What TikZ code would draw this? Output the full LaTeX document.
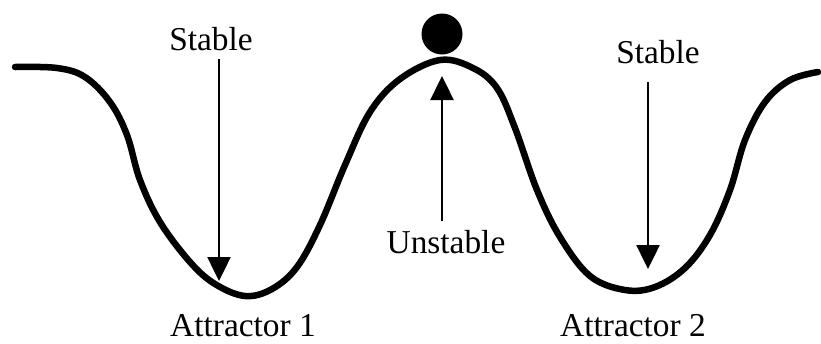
\documentclass[tikz,border=0pt]{standalone}
\usepackage{fontspec}
\setmainfont{Liberation Serif}
\usepackage{tikz}
\usetikzlibrary{positioning,arrows.meta}
\tikzset{
  pointer/.style={-{Triangle[length=0.48cm, width=0.46cm]}, line width=1.4pt},
  landscape/.style={line width=3.7pt, line join=round, line cap=round},
  tag/.style={font=\fontsize{19}{22}\selectfont, inner xsep=0pt, inner ysep=5pt, anchor=base},
  ball/.style={circle, fill=black, inner sep=0pt, minimum size=0.82cm}
}
\begin{document}
\begin{tikzpicture}[x=0.02cm, y=-0.02cm]
  \useasboundingbox (0,0) rectangle (821,343);
  % potential landscape
  \draw[landscape] plot[smooth, tension=0.6] coordinates {
    (15,67) (57,68) (85,77) (110,102) (127,135) (140,180) (160,222) (190,262)
    (215,284) (245,296) (272,289) (297,267) (320,225) (345,165) (370,112)
    (400,79) (440,60) (473,68) (497,88) (515,128) (537,190) (560,237)
    (590,276) (625,290) (655,287) (685,268) (710,235) (730,190) (745,140)
    (765,102) (790,80) (818,72)};
  \node[ball] (marble) at (442,34) {};
  % labels
  \node[tag] (stableL) at (211,50) {Stable};
  \node[tag] (stableR) at (658,63) {Stable};
  \node[tag] (unstable) at (446,253) {Unstable};
  \node[tag] (attrA) at (243,336) {Attractor 1};
  \node[tag] (attrB) at (633,336) {Attractor 2};
  % arrow ends on the curve
  \coordinate (wellL) at (219,281);
  \coordinate (wellR) at (648,269);
  \coordinate (peak) at (442,76);
  \draw[pointer] (stableL.south -| wellL) -- (wellL);
  \draw[pointer, shorten <=0.2cm] (stableR.south -| wellR) -- (wellR);
  \draw[pointer] (unstable.north -| peak) -- (peak);
\end{tikzpicture}
\end{document}
